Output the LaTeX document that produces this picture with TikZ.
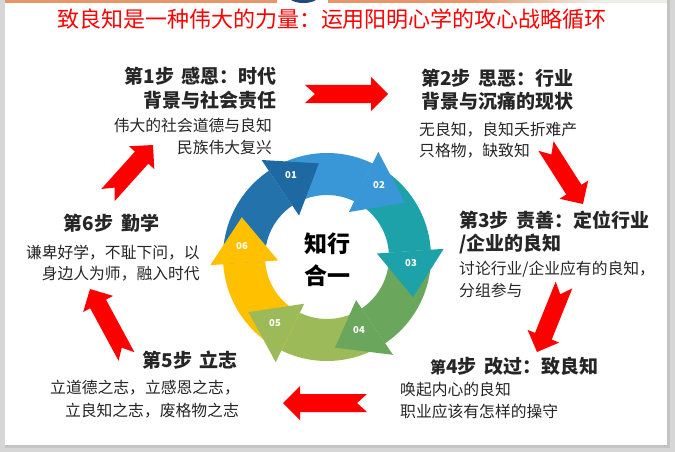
\documentclass[tikz,border=0pt]{standalone}
\usepackage{fontspec}
\setmainfont{Noto Sans CJK SC}
\usetikzlibrary{calc}
\definecolor{cA}{HTML}{2472AC}
\definecolor{cAh}{HTML}{1F69A3}
\definecolor{cB}{HTML}{3997D8}
\definecolor{cC}{HTML}{1DA2AA}
\definecolor{cD}{HTML}{6AA65C}
\definecolor{cE}{HTML}{9CBB58}
\definecolor{cF}{HTML}{FFC000}
\definecolor{txt}{HTML}{262626}
\definecolor{barorange}{HTML}{E8956A}
\definecolor{barlight}{HTML}{EEEEE8}
\definecolor{navy}{HTML}{23467F}
\definecolor{arrowred}{HTML}{FF0000}
\definecolor{framegray}{HTML}{D6D6D6}
\definecolor{shadowgray}{HTML}{C4C4C4}
\newcommand{\redarrow}[3]{%
  \coordinate (#1t) at #2;
  \coordinate (#1h) at #3;
  \coordinate (#1b) at ($(#1h)!17pt!(#1t)$);
  \fill[arrowred] ($(#1t)!9pt!90:(#1h)$) -- ($(#1b)!9pt!-90:(#1t)$) -- ($(#1b)!17pt!-90:(#1t)$) -- (#1h) -- ($(#1b)!17pt!90:(#1t)$) -- ($(#1b)!9pt!90:(#1t)$) -- ($(#1t)!9pt!-90:(#1h)$) -- ($(#1t)!10pt!(#1h)$) -- cycle;
}
\begin{document}
\begin{tikzpicture}[x=1pt,y=-1pt,
  headf/.style={font=\bfseries\fontsize{19}{23}\selectfont, text=txt, inner sep=0pt},
  bodyf/.style={font=\fontsize{15.8}{22}\selectfont, text=txt, inner sep=0pt},
  lbl/.style={font=\bfseries\fontsize{9.5}{11}\selectfont, text=white, inner sep=0pt}]
\useasboundingbox (0,0) rectangle (675,452);
% frame
\fill[framegray] (0,0) rectangle (675,452);
\fill[shadowgray] (5,0) rectangle (670,448);
\fill[white] (5,0) rectangle (667,445);
% top bar
\fill[barorange] (5,0) rectangle (277,3);
\fill[barorange] (328,0) rectangle (470,3);
\shade[left color=barorange, right color=barlight] (470,0) rectangle (600,3);
\fill[barlight] (600,0) rectangle (667,3);
\begin{scope}
  \clip (5,0) rectangle (667,10);
  \fill[navy] (303.5,-5) ellipse [x radius=16, y radius=8];
\end{scope}
% title
\node[font=\fontsize{22}{26}\selectfont, text=arrowred, inner sep=0pt, anchor=base] (title) at (332,28) {致良知是一种伟大的力量：运用阳明心学的攻心战略循环};
% ring
\begin{scope}[shift={(327,257)}]
  \fill[cA] (184:104pt) arc[start angle=184, end angle=124, radius=104pt] -- (124:62pt) arc[start angle=124, end angle=184, radius=62pt] -- cycle;
  \fill[cB] (124:104pt) arc[start angle=124, end angle=64, radius=104pt] -- (64:62pt) arc[start angle=64, end angle=124, radius=62pt] -- cycle;
  \fill[cC] (64:104pt) arc[start angle=64, end angle=4, radius=104pt] -- (4:62pt) arc[start angle=4, end angle=64, radius=62pt] -- cycle;
  \fill[cD] (4:104pt) arc[start angle=4, end angle=-56, radius=104pt] -- (-56:62pt) arc[start angle=-56, end angle=4, radius=62pt] -- cycle;
  \fill[cE] (-56:104pt) arc[start angle=-56, end angle=-116, radius=104pt] -- (-116:62pt) arc[start angle=-116, end angle=-56, radius=62pt] -- cycle;
  \fill[cF] (-116:104pt) arc[start angle=-116, end angle=-176, radius=104pt] -- (-176:62pt) arc[start angle=-176, end angle=-116, radius=62pt] -- cycle;
  \fill[cAh] (124:117pt) -- (95:94pt) -- (124:50pt) -- cycle;
  \fill[cB] (64:117pt) -- (35:95pt) -- (64:50pt) -- cycle;
  \fill[cC] (4:117pt) -- (-25:95pt) -- (4:50pt) -- cycle;
  \fill[cD] (-56:118pt) -- (-85:91pt) -- (-56:52pt) -- cycle;
  \fill[cE] (-116:117pt) -- (-145:96pt) -- (-116:52pt) -- cycle;
  \fill[cF] (-176:117pt) -- (-205:94pt) -- (-176:49pt) -- cycle;
\end{scope}
\node[lbl] (n01) at (291,175) {01};
\node[lbl] (n02) at (379,185) {02};
\node[lbl] (n03) at (411,263) {03};
\node[lbl] (n04) at (359,330) {04};
\node[lbl] (n05) at (275,323) {05};
\node[lbl] (n06) at (242,246) {06};
\node[font=\bfseries\fontsize{23}{32}\selectfont, align=center, inner sep=0pt] (core) at (327,260) {知行\\合一};
% red arrows
\redarrow{a1}{(305,94)}{(388,94)}
\redarrow{a2}{(546,146)}{(583,204)}
\redarrow{a3}{(564,285)}{(537,352)}
\redarrow{a4}{(367,403)}{(283,403)}
\redarrow{a5}{(126.5,356.5)}{(90,289)}
\redarrow{a6}{(108,195)}{(153,145)}
% step 1
\node[headf, anchor=base east] (s1a) at (277,84) {第1步\hspace{0.4em}感恩：时代};
\node[headf, anchor=base east] (s1b) at (277,107) {背景与社会责任};
\node[bodyf, anchor=base east] (s1c) at (272,131) {伟大的社会道德与良知};
\node[bodyf, anchor=base east] (s1d) at (272,153) {民族伟大复兴};
% step 2
\node[headf, anchor=base west] (s2a) at (421,85) {第2步\hspace{0.4em}思恶：行业};
\node[headf, anchor=base west] (s2b) at (421,108) {背景与沉痛的现状};
\node[bodyf, anchor=base west] (s2c) at (419,135) {无良知，良知夭折难产};
\node[bodyf, anchor=base west] (s2d) at (419,156) {只格物，缺致知};
% step 3
\node[headf, anchor=base west] (s3a) at (459,227) {第3步\hspace{0.4em}责善：定位行业};
\node[headf, anchor=base west] (s3b) at (459,250) {/企业的良知};
\node[bodyf, anchor=base west] (s3c) at (459,274) {讨论行业/企业应有的良知，};
\node[bodyf, anchor=base west] (s3d) at (459,296) {分组参与};
% step 4
\node[headf, anchor=base west] (s4a) at (430,373) {{\fontsize{16}{20}\selectfont 第}4步\hspace{0.4em}改过：致良知};
\node[bodyf, anchor=base west] (s4b) at (400,395) {唤起内心的良知};
\node[bodyf, anchor=base west] (s4c) at (400,417) {职业应该有怎样的操守};
% step 5
\node[headf, anchor=base east] (s5a) at (238,367) {第5步\hspace{0.4em}立志};
\node[bodyf, anchor=base east] (s5b) at (240,393) {立道德之志，立感恩之志，};
\node[bodyf, anchor=base east] (s5c) at (239,416) {立良知之志，废格物之志};
% step 6
\node[headf, anchor=base] (s6a) at (111.5,230) {第6步\hspace{0.4em}勤学};
\node[bodyf, anchor=base east] (s6b) at (200,258) {谦卑好学，不耻下问，以};
\node[bodyf, anchor=base east] (s6c) at (200,279) {身边人为师，融入时代};
\end{tikzpicture}
\end{document}
